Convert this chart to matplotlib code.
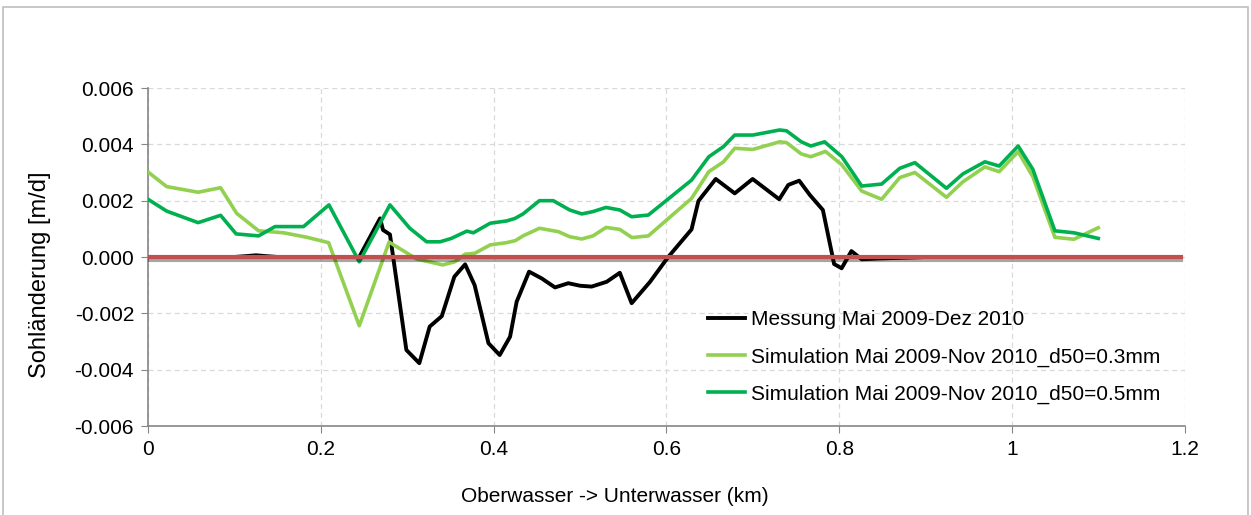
import numpy as np
import matplotlib
matplotlib.use("Agg")
import matplotlib.pyplot as plt
import matplotlib.patheffects as pe
from matplotlib.patches import Rectangle

plt.rcParams["font.family"] = ["Liberation Sans", "DejaVu Sans"]

# ---------------- data ----------------
# Messung Mai 2009-Dez 2010
x_mess = [0.0, 0.10, 0.125, 0.15, 0.2445, 0.2685, 0.272, 0.280, 0.299, 0.314,
          0.326, 0.340, 0.3545, 0.367, 0.378, 0.394, 0.407, 0.419, 0.4266,
          0.441, 0.4556, 0.471, 0.4864, 0.500, 0.5134, 0.5308, 0.546, 0.5597,
          0.581, 0.602, 0.629, 0.637, 0.657, 0.679, 0.6997, 0.7305, 0.741,
          0.7536, 0.766, 0.781, 0.794, 0.8027, 0.814, 0.826, 0.847, 0.90,
          1.00, 1.10]
y_mess = [0.0, 0.0, 0.00006, 0.0, 0.0, 0.00137, 0.00096, 0.00080, -0.00330,
          -0.00377, -0.00247, -0.00210, -0.00070, -0.00026, -0.00100, -0.00306,
          -0.00348, -0.00283, -0.00159, -0.00052, -0.00076, -0.00108, -0.00093,
          -0.00102, -0.00105, -0.00088, -0.00056, -0.00164, -0.00088, 0.0,
          0.00098, 0.00199, 0.00277, 0.00226, 0.00277, 0.00205, 0.00256,
          0.00271, 0.00220, 0.00167, -0.00025, -0.00040, 0.00021, -0.00008,
          -0.00005, 0.0, 0.0, 0.0]

# Simulation d50=0.3mm
x_sim03 = [0.0, 0.0216, 0.058, 0.084, 0.1026, 0.128, 0.157, 0.184, 0.209,
           0.2445, 0.279, 0.311, 0.341, 0.355, 0.367, 0.378, 0.396, 0.415,
           0.425, 0.434, 0.453, 0.475, 0.488, 0.502, 0.515, 0.530, 0.546,
           0.560, 0.579, 0.629, 0.649, 0.666, 0.679, 0.700, 0.731, 0.739,
           0.756, 0.767, 0.784, 0.803, 0.826, 0.849, 0.870, 0.8875, 0.924,
           0.943, 0.9685, 0.985, 1.007, 1.024, 1.0495, 1.0715, 1.0997]
y_sim03 = [0.00302, 0.00250, 0.00230, 0.00246, 0.00155, 0.00093, 0.00086,
           0.00070, 0.00051, -0.00244, 0.00053, -0.00007, -0.00028, -0.00017,
           0.00010, 0.00013, 0.00043, 0.00051, 0.00058, 0.00075, 0.00102,
           0.00090, 0.00072, 0.00064, 0.00075, 0.00105, 0.00098, 0.00069,
           0.00075, 0.00208, 0.00303, 0.00338, 0.00386, 0.00382, 0.00409,
           0.00406, 0.00366, 0.00356, 0.00375, 0.00327, 0.00234, 0.00205,
           0.00282, 0.00300, 0.00212, 0.00267, 0.00320, 0.00303, 0.00374,
           0.00285, 0.00070, 0.00063, 0.00104]

# Simulation d50=0.5mm
x_sim05 = [0.0, 0.0216, 0.058, 0.084, 0.102, 0.128, 0.147, 0.180, 0.2094,
           0.2445, 0.280, 0.303, 0.3225, 0.338, 0.351, 0.369, 0.3765, 0.396,
           0.415, 0.4247, 0.434, 0.453, 0.469, 0.488, 0.502, 0.5146, 0.530,
           0.546, 0.5597, 0.579, 0.629, 0.649, 0.666, 0.679, 0.700, 0.731,
           0.739, 0.756, 0.767, 0.783, 0.803, 0.826, 0.849, 0.870, 0.8875,
           0.924, 0.943, 0.9685, 0.985, 1.007, 1.024, 1.0495, 1.0715, 1.0997]
y_sim05 = [0.00205, 0.00163, 0.00122, 0.00148, 0.00082, 0.00075, 0.00108,
           0.00108, 0.00185, -0.00017, 0.00185, 0.00102, 0.00054, 0.00054,
           0.00066, 0.00092, 0.00086, 0.00120, 0.00128, 0.00137, 0.00153,
           0.00200, 0.00200, 0.00167, 0.00153, 0.00161, 0.00176, 0.00167,
           0.00143, 0.00149, 0.00273, 0.00356, 0.00392, 0.00433, 0.00433,
           0.00451, 0.00448, 0.00409, 0.00394, 0.00409, 0.00356, 0.00252,
           0.00259, 0.00315, 0.00335, 0.00244, 0.00295, 0.00338, 0.00323,
           0.00394, 0.00311, 0.00093, 0.00086, 0.00066]

labels = ["Messung Mai 2009-Dez 2010",
          "Simulation Mai 2009-Nov 2010_d50=0.3mm",
          "Simulation Mai 2009-Nov 2010_d50=0.5mm"]

x_ticks = [0, 0.2, 0.4, 0.6, 0.8, 1.0, 1.2]
x_ticklabels = ["0", "0.2", "0.4", "0.6", "0.8", "1", "1.2"]
y_ticks = [-0.006, -0.004, -0.002, 0.0, 0.002, 0.004, 0.006]

# ---------------- figure ----------------
fig = plt.figure(figsize=(12.51, 5.15), dpi=100)
ax = fig.add_axes([0.1183, 0.1728, 0.8289, 0.6563])

# Rahmen um das ganze Diagramm
fig.patches.append(Rectangle((0.0024, -0.05), 0.9952, 1.0364,
                             transform=fig.transFigure, fill=False,
                             edgecolor="#bfbfbf", linewidth=1.2))

ax.plot(x_mess, y_mess, color="black", lw=2.8, label=labels[0], zorder=3)
ax.plot(x_sim03, y_sim03, color="#92d050", lw=2.6, label=labels[1], zorder=3)
ax.plot(x_sim05, y_sim05, color="#00b050", lw=2.6, label=labels[2], zorder=3)

# Nulllinie (rot, mit Schatten)
ax.plot([0, 1.195], [0, 0], color="#c0504d", lw=3, zorder=4,
        path_effects=[pe.SimpleLineShadow(offset=(0, -2), alpha=0.35),
                      pe.Normal()])

ax.set_xlim(0, 1.2)
ax.set_ylim(-0.006, 0.006)
ax.set_xticks(x_ticks)
ax.set_xticklabels(x_ticklabels)
ax.set_yticks(y_ticks)
ax.set_yticklabels([f"{v:.3f}" for v in y_ticks])
ax.tick_params(labelsize=15, length=5, color="#868686", pad=5)

ax.grid(True, color="#d9d9d9", linestyle=(0, (4, 3)), linewidth=0.9)
ax.set_axisbelow(True)
for s in ["top", "right"]:
    ax.spines[s].set_visible(False)
for s in ["left", "bottom"]:
    ax.spines[s].set_color("#868686")
    ax.spines[s].set_linewidth(1.2)

fig.text(0.032, 0.466, "Sohländerung [m/d]", rotation=90, fontsize=17,
         ha="center", va="center")
fig.text(0.4916, 0.035, "Oberwasser -> Unterwasser (km)", fontsize=15,
         ha="center", va="center")

ax.legend(loc="center left", bbox_to_anchor=(0.54, 0.204), frameon=False,
          fontsize=15, handlelength=1.8, handletextpad=0.25,
          labelspacing=0.86, borderpad=0, borderaxespad=0)

fig.savefig("out.png", dpi=100)
